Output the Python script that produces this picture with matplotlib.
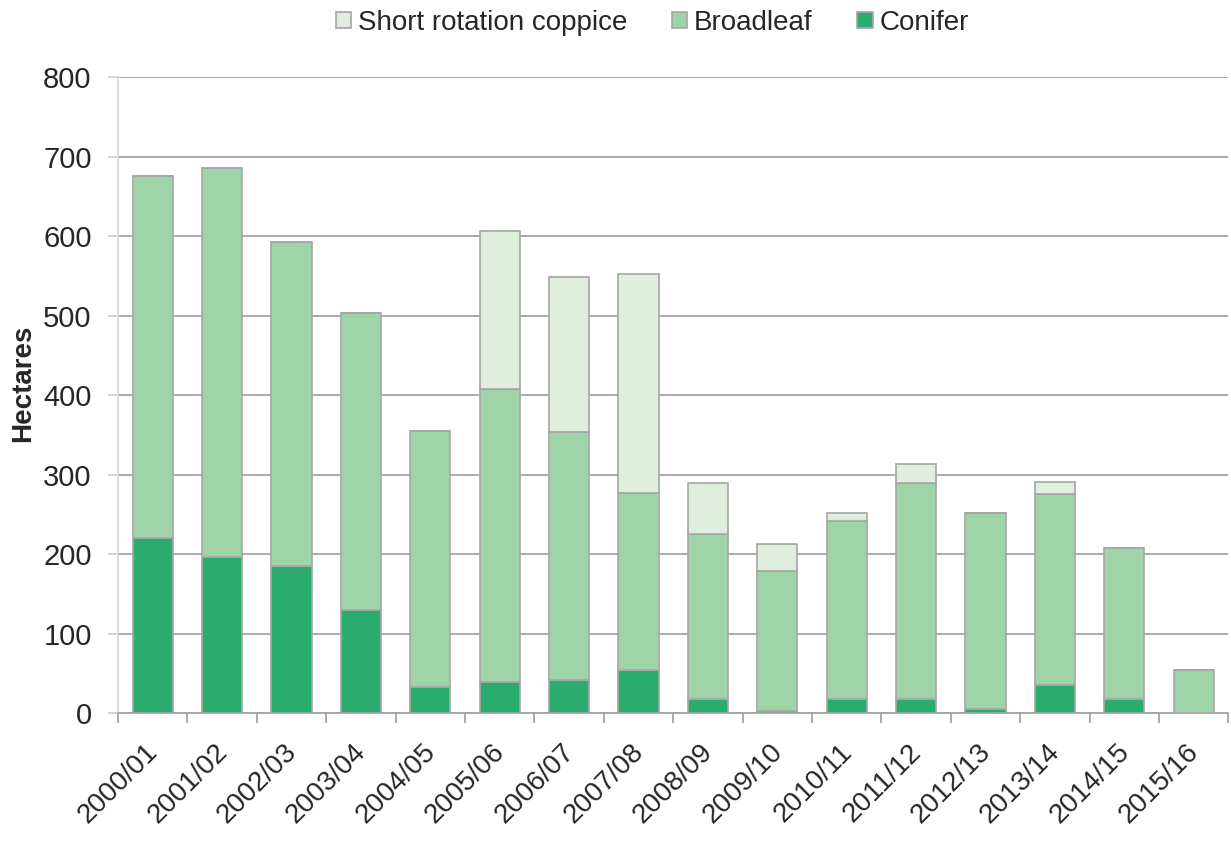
import matplotlib
matplotlib.use("Agg")
import matplotlib.pyplot as plt
import matplotlib.transforms as mtransforms
import numpy as np

plt.rcParams['font.family'] = ['Liberation Sans', 'DejaVu Sans']

categories = ["2000/01", "2001/02", "2002/03", "2003/04", "2004/05", "2005/06",
              "2006/07", "2007/08", "2008/09", "2009/10", "2010/11", "2011/12",
              "2012/13", "2013/14", "2014/15", "2015/16"]
conifer = [220, 196, 185, 129, 33, 39, 42, 54, 18, 2, 18, 18, 5, 35, 18, 0]
broadleaf = [455, 490, 407, 374, 322, 369, 311, 223, 207, 176, 224, 271, 247, 240, 190, 54]
src = [0, 0, 0, 0, 0, 198, 195, 275, 64, 35, 10, 24, 0, 15, 0, 0]
yticks = [0, 100, 200, 300, 400, 500, 600, 700, 800]

c_con = "#2aac6f"
c_brd = "#9fd3a8"
c_src = "#e0eede"
edge = "#a6a6a6"
txt = "#262626"

fig = plt.figure(figsize=(12.31, 8.41), dpi=100)
ax = fig.add_axes([0.0959, 0.1522, 0.9020, 0.7562])

x = np.arange(len(categories))
w = 0.58
con = np.array(conifer)
brd = np.array(broadleaf)
sr = np.array(src)

ax.bar(x, con, w, color=c_con, edgecolor=edge, linewidth=1.2, label="Conifer", zorder=3)
ax.bar(x, brd, w, bottom=con, color=c_brd, edgecolor=edge, linewidth=1.2, label="Broadleaf", zorder=3)
ax.bar(x, sr, w, bottom=con + brd, color=c_src, edgecolor=edge, linewidth=1.2,
       label="Short rotation coppice", zorder=3)

ax.set_xlim(-0.5, len(categories) - 0.5)
ax.set_ylim(0, 800)
ax.set_yticks(yticks)
ax.set_yticklabels([str(v) for v in yticks], fontsize=21, color=txt)
ax.yaxis.grid(True, color="#a6a6a6", linewidth=1.3, zorder=0)
ax.set_axisbelow(True)

ax.set_xticks(x)
ax.set_xticklabels(categories, rotation=45, ha="right", rotation_mode="anchor",
                   fontsize=20, color=txt)
ax.tick_params(axis='x', which='major', length=0, pad=10)
offset = mtransforms.ScaledTranslation(-0.08, -0.12, fig.dpi_scale_trans)
for lab in ax.get_xticklabels():
    lab.set_transform(lab.get_transform() + offset)
ax.set_xticks(np.arange(len(categories) + 1) - 0.5, minor=True)
ax.tick_params(axis='x', which='minor', length=7, width=1.3, color="#a6a6a6")
ax.tick_params(axis='y', length=7, width=1.3, color="#d0d0d0", pad=12)

for s in ["top", "right"]:
    ax.spines[s].set_visible(False)
ax.spines["left"].set_color("#d9d9d9")
ax.spines["left"].set_linewidth(1.3)
ax.spines["bottom"].set_color("#a6a6a6")
ax.spines["bottom"].set_linewidth(1.3)

ax.set_ylabel("Hectares", fontsize=20, fontweight="bold", color=txt, va="center")
ax.yaxis.set_label_coords(-0.0856, 0.519)

h, l = ax.get_legend_handles_labels()
leg = fig.legend(h[::-1], l[::-1], loc="center", bbox_to_anchor=(0.530, 0.973), ncol=3,
                 frameon=False, fontsize=20, handlelength=0.55, handleheight=0.55,
                 handletextpad=0.25, columnspacing=1.6)
for t in leg.get_texts():
    t.set_color(txt)

fig.savefig("out.png", dpi=100)
